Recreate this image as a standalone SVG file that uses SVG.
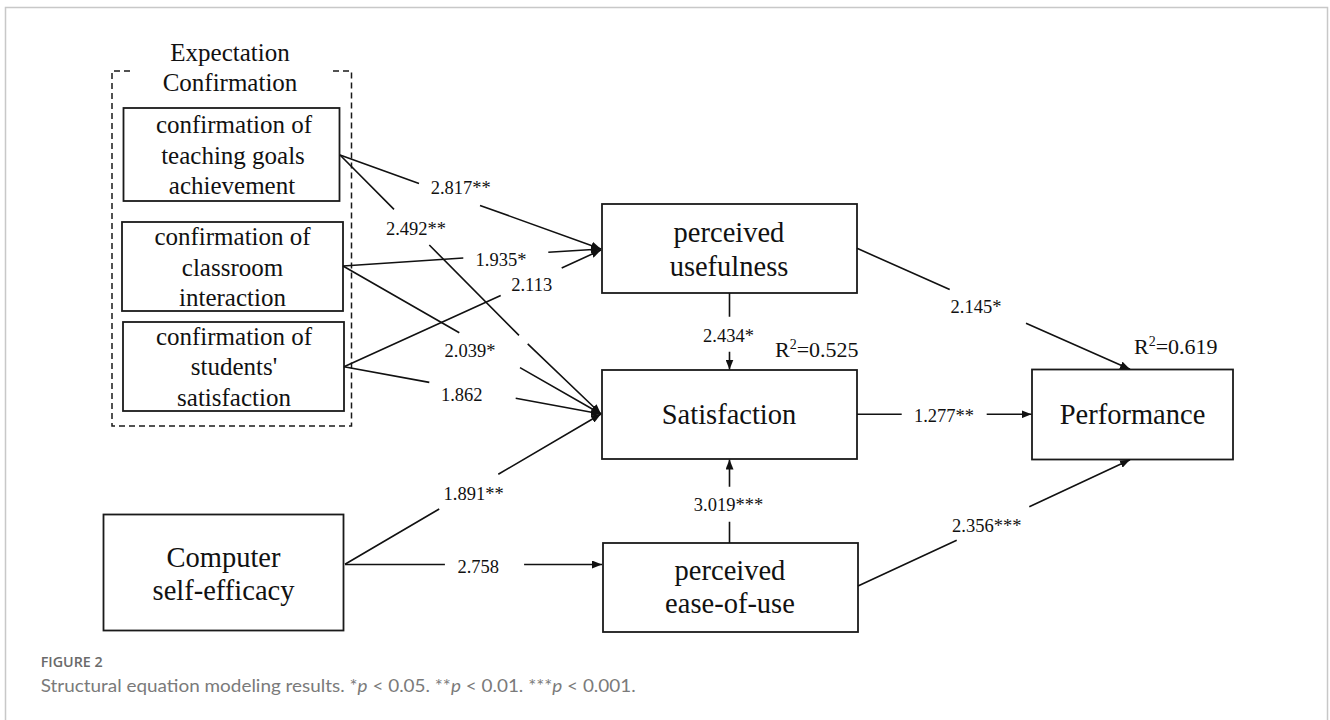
<svg xmlns="http://www.w3.org/2000/svg" width="1330" height="720" viewBox="0 0 1330 720">
<defs>
<style>
.frame{fill:#fff;stroke:#c8c8c8;stroke-width:1.5}
.box{fill:#fff;stroke:#1a1a1a;stroke-width:1.8}
.dash{fill:none;stroke:#1a1a1a;stroke-width:1.5;stroke-dasharray:6,4}
.conn{fill:none;stroke:#111;stroke-width:1.6}
.t{font-family:"Liberation Serif","Times New Roman",serif;fill:#111;text-anchor:middle}
.node{font-size:28.5px}
.small{font-size:25px}
.lbl{font-size:18.5px}
.r2{font-size:22px;text-anchor:start}
.cap1{font-family:"Open Sans","Liberation Sans",sans-serif;font-size:14.5px;font-weight:600;fill:#6a6a6a}
.cap2{font-family:Lato,"Open Sans","Liberation Sans",sans-serif;font-size:17.5px;font-weight:400;fill:#7a7a7a}
</style>
<marker id="ah" viewBox="0 0 10 8" markerWidth="10" markerHeight="8" refX="10" refY="4" orient="auto" markerUnits="userSpaceOnUse">
<path d="M0,0 L10,4 L0,8 z" fill="#111"/>
</marker>
</defs>
<rect class="frame" x="5.5" y="7.5" width="1322" height="730"/>

<g id="expectation-confirmation">
<path class="dash" d="M130,71 H112 V426 H351.5 V71 H330"/>
<text class="t small" x="230" y="61">Expectation</text>
<text class="t small" x="230" y="91">Confirmation</text>
</g>

<g id="node-teaching-goals">
<rect class="box" x="123.5" y="108" width="216" height="93"/>
<text class="t small" x="234" y="133">confirmation of</text>
<text class="t small" x="233" y="163.5">teaching goals</text>
<text class="t small" x="232" y="194">achievement</text>
</g>

<g id="node-classroom-interaction">
<rect class="box" x="122" y="222" width="221" height="89"/>
<text class="t small" x="232.5" y="245">confirmation of</text>
<text class="t small" x="232.5" y="276">classroom</text>
<text class="t small" x="232.5" y="306">interaction</text>
</g>

<g id="node-students-satisfaction">
<rect class="box" x="123" y="322" width="221" height="89"/>
<text class="t small" x="234" y="345">confirmation of</text>
<text class="t small" x="234" y="375">students'</text>
<text class="t small" x="234" y="406">satisfaction</text>
</g>

<g id="node-perceived-usefulness">
<rect class="box" x="602" y="204" width="255" height="89"/>
<text class="t node" x="729" y="242">perceived</text>
<text class="t node" x="729" y="276">usefulness</text>
</g>

<g id="node-satisfaction">
<rect class="box" x="602" y="370" width="255" height="89"/>
<text class="t node" x="729" y="424">Satisfaction</text>
<text class="t r2" x="775" y="356.5">R<tspan font-size="14" dy="-8">2</tspan><tspan dy="8">=0.525</tspan></text>
</g>

<g id="node-perceived-ease-of-use">
<rect class="box" x="603" y="543" width="255" height="89"/>
<text class="t node" x="730" y="580">perceived</text>
<text class="t node" x="730" y="613">ease-of-use</text>
</g>

<g id="node-performance">
<rect class="box" x="1032" y="369.5" width="201" height="90"/>
<text class="t node" x="1132.5" y="424">Performance</text>
<text class="t r2" x="1134" y="354">R<tspan font-size="14" dy="-8">2</tspan><tspan dy="8">=0.619</tspan></text>
</g>

<g id="node-computer-self-efficacy">
<rect class="box" x="103.5" y="514.5" width="240" height="116"/>
<text class="t node" x="223.5" y="566.5">Computer</text>
<text class="t node" x="223.5" y="600">self-efficacy</text>
</g>

<g id="connectors">
<path class="conn" marker-end="url(#ah)" d="M340,155 L419,183.5 M480,205.4 L601,249"/>
<path class="conn" marker-end="url(#ah)" d="M340,155 L394,209.4 M429.3,245 L519,335.4 M527.7,343.8 L601,414"/>
<path class="conn" marker-end="url(#ah)" d="M343,266 L463.3,258 M548.3,252.3 L601,249"/>
<path class="conn" marker-end="url(#ah)" d="M343,266 L459.3,332.8 M520,367.6 L601,414"/>
<path class="conn" marker-end="url(#ah)" d="M344,366.7 L500.7,295.5 M561.7,267.9 L601,250"/>
<path class="conn" marker-end="url(#ah)" d="M344,366.7 L429.3,382.4 M515.7,398.3 L601,414"/>
<path class="conn" marker-end="url(#ah)" d="M345,564.3 L439.2,509 M498.3,474.3 L601,414"/>
<path class="conn" marker-end="url(#ah)" d="M345,564.5 L444.9,564.5 M524.1,564.5 L602,564.5"/>
<path class="conn" marker-end="url(#ah)" d="M729.5,293 L729.5,316.7 M729.5,351.7 L729.5,369.5"/>
<path class="conn" marker-end="url(#ah)" d="M729.5,543 L729.5,521.7 M729.5,486.7 L729.5,459.5"/>
<path class="conn" marker-end="url(#ah)" d="M857,414.3 L901.7,414.3 M986.7,414.3 L1031.5,414.3"/>
<path class="conn" marker-end="url(#ah)" d="M857,248.3 L949.7,289.6 M1026,323.2 L1130,369.3"/>
<path class="conn" marker-end="url(#ah)" d="M858,586 L956.7,540.3 M1029.3,506.7 L1130,459.8"/>
<text class="t lbl" x="460.7" y="194.3">2.817**</text>
<text class="t lbl" x="416" y="235">2.492**</text>
<text class="t lbl" x="501" y="266">1.935*</text>
<text class="t lbl" x="531.7" y="290.7">2.113</text>
<text class="t lbl" x="470" y="357.3">2.039*</text>
<text class="t lbl" x="461.7" y="401">1.862</text>
<text class="t lbl" x="473.6" y="500">1.891**</text>
<text class="t lbl" x="478.2" y="573.3">2.758</text>
<text class="t lbl" x="728.5" y="341.7">2.434*</text>
<text class="t lbl" x="728.5" y="511">3.019***</text>
<text class="t lbl" x="944" y="421.7">1.277**</text>
<text class="t lbl" x="976" y="313.3">2.145*</text>
<text class="t lbl" x="986.7" y="531.7">2.356***</text>
</g>

<text class="cap1" x="40.7" y="667.3" textLength="62" lengthAdjust="spacingAndGlyphs">FIGURE 2</text>
<text class="cap2" x="40.7" y="691.7" textLength="595" lengthAdjust="spacingAndGlyphs">Structural equation modeling results. *<tspan font-style="italic">p</tspan> &lt; 0.05. **<tspan font-style="italic">p</tspan> &lt; 0.01. ***<tspan font-style="italic">p</tspan> &lt; 0.001.</text>
</svg>
